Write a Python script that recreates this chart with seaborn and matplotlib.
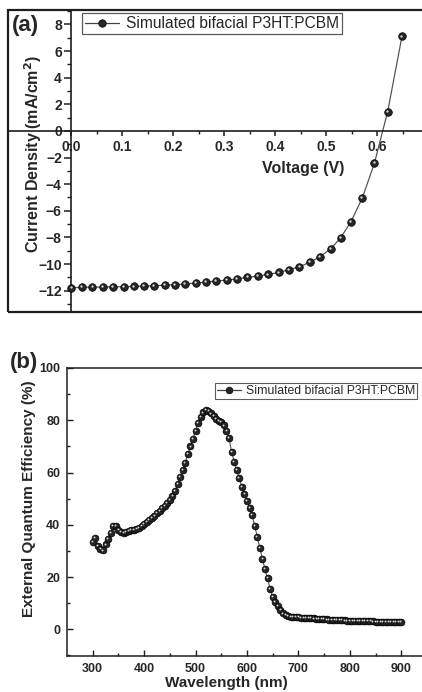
import numpy as np
import pandas as pd
import seaborn as sns
import matplotlib
matplotlib.use("Agg")
import matplotlib.pyplot as plt
import matplotlib.transforms as mtransforms
from matplotlib.lines import Line2D
from matplotlib.patches import Rectangle
from matplotlib.ticker import FixedLocator, FormatStrFormatter

# ---------------- data ----------------
series_label = "Simulated bifacial P3HT:PCBM"

# (a) J-V curve
voltage = [0.000, 0.020, 0.041, 0.061, 0.081, 0.102, 0.122, 0.142, 0.162, 0.183,
           0.203, 0.223, 0.244, 0.264, 0.284, 0.305, 0.325, 0.345, 0.365, 0.386,
           0.406, 0.426, 0.447, 0.467, 0.487, 0.508, 0.528, 0.548, 0.570, 0.594,
           0.620, 0.648]
current_density = [-11.78, -11.75, -11.73, -11.73, -11.70, -11.70, -11.68, -11.65, -11.63, -11.58,
                   -11.55, -11.50, -11.42, -11.36, -11.27, -11.20, -11.10, -11.00, -10.90, -10.78,
                   -10.63, -10.43, -10.20, -9.87, -9.45, -8.87, -8.02, -6.82, -5.06, -2.43,
                   1.45, 7.09]
a_xticks = [0.0, 0.1, 0.2, 0.3, 0.4, 0.5, 0.6]
a_xminor = [0.05, 0.15, 0.25, 0.35, 0.45, 0.55, 0.65]
a_yticks = [-12, -10, -8, -6, -4, -2, 0, 2, 4, 6, 8]
a_yminor = [-13, -11, -9, -7, -5, -3, -1, 1, 3, 5, 7, 9]

# (b) EQE spectrum, 5 nm steps from 300 to 900 nm
wavelength = np.arange(300, 901, 5)
eqe = [33.3, 34.8, 32.0, 30.8, 30.2, 32.5, 34.5, 37.0, 39.5, 39.6,
       38.2, 37.2, 36.8, 37.2, 37.6, 38.0, 38.1, 38.4, 38.9, 39.5,
       40.2, 41.0, 41.8, 42.6, 43.5, 44.4, 45.3, 46.3, 47.3, 48.4,
       49.5, 51.0, 53.0, 55.5, 58.3, 61.0, 63.8, 67.0, 70.0, 73.0,
       76.0, 79.0, 81.3, 83.0, 83.8, 83.5, 82.6, 81.5, 80.6, 79.8,
       79.3, 78.0, 76.0, 73.2, 68.0, 64.2, 61.0, 57.8, 54.6, 51.8,
       49.2, 46.6, 43.8, 39.5, 35.5, 31.0, 27.0, 23.0, 19.5, 15.5,
       12.5, 10.5, 8.8, 7.3, 6.1, 5.4, 5.1, 4.9, 4.8, 4.7,
       4.6, 4.5, 4.45, 4.4, 4.3, 4.2, 4.15, 4.05, 4.0, 3.9,
       3.85, 3.8, 3.7, 3.65, 3.6, 3.55, 3.5, 3.45, 3.4, 3.35,
       3.3, 3.28, 3.25, 3.2, 3.17, 3.15, 3.1, 3.08, 3.05, 3.02,
       3.0, 2.97, 2.95, 2.93, 2.9, 2.88, 2.86, 2.85, 2.83, 2.82,
       2.8]
b_xticks = [300, 400, 500, 600, 700, 800, 900]
b_xminor = [350, 450, 550, 650, 750, 850]
b_yticks = [0, 20, 40, 60, 80, 100]
b_yminor = [-10, 10, 30, 50, 70, 90]

jv = pd.DataFrame({"V": voltage, "J": current_density})
spec = pd.DataFrame({"wl": wavelength, "eqe": eqe})

# ---------------- style ----------------
sns.set_style("white")
plt.rcParams["font.family"] = ["Liberation Sans", "DejaVu Sans"]
plt.rcParams["font.weight"] = "bold"
plt.rcParams["axes.unicode_minus"] = True

INK = "#1e1e1e"
fig = plt.figure(figsize=(4.22, 6.92), dpi=100)
W, H = 422.0, 692.0


def balls(ax, df, x, y, size, hl):
    """Shaded sphere markers: dark disc plus a small off-centre highlight."""
    sns.scatterplot(data=df, x=x, y=y, ax=ax, s=size, color="#262626",
                    edgecolor="black", linewidth=0.5, zorder=3, legend=False)
    shine = mtransforms.offset_copy(ax.transData, fig=fig, x=-0.9, y=0.9, units="dots")
    ax.scatter(df[x], df[y], s=hl, color="#d8d8d8", linewidths=0,
               transform=shine, zorder=4)


def legend_handle(ms):
    return Line2D([], [], color="#444444", lw=0.9, marker="o", markersize=ms,
                  markerfacecolor="#262626", markeredgecolor="black", markeredgewidth=0.5)


# ---------------- panel (a) ----------------
ax_a = fig.add_axes([8 / W, 1 - 312 / H, 422 / W, 302 / H])
sns.lineplot(data=jv, x="V", y="J", ax=ax_a, color="#555555", lw=0.9,
             sort=False, estimator=None, zorder=2)
balls(ax_a, jv, "V", "J", 30, 2.8)

ax_a.set_xlim(-0.1245, 0.703)
ax_a.set_ylim(-13.6, 9.08)
ax_a.spines["left"].set_position(("data", 0))
ax_a.spines["bottom"].set_position(("data", 0))
for side in ("top", "right"):
    ax_a.spines[side].set_visible(False)
for side in ("left", "bottom"):
    ax_a.spines[side].set_linewidth(1.2)
    ax_a.spines[side].set_color(INK)
ax_a.add_patch(Rectangle((0, 0), 1, 1, transform=ax_a.transAxes, fill=False,
                         lw=1.6, ec=INK, clip_on=False, zorder=5))

ax_a.xaxis.set_major_locator(FixedLocator(a_xticks))
ax_a.xaxis.set_minor_locator(FixedLocator(a_xminor))
ax_a.yaxis.set_major_locator(FixedLocator(a_yticks))
ax_a.yaxis.set_minor_locator(FixedLocator(a_yminor))
ax_a.xaxis.set_major_formatter(FormatStrFormatter("%.1f"))
ax_a.tick_params(axis="both", which="both", direction="out", color=INK,
                 labelsize=10, bottom=True, left=True)
ax_a.tick_params(axis="y", which="major", length=5, width=1.1, pad=2)
ax_a.tick_params(axis="y", which="minor", length=3, width=1.0)
ax_a.tick_params(axis="x", which="major", length=3.5, width=1.1, pad=3)
ax_a.tick_params(axis="x", which="minor", length=2, width=1.0)

ax_a.set_xlabel("Voltage (V)", fontsize=11.5, fontweight="bold")
ax_a.xaxis.set_label_coords((303 - 8) / 422, (312 - 168) / 302)
ax_a.xaxis.label.set_va("center")
ax_a.set_ylabel("Current Density (mA/cm$^\\mathbf{2}$)", fontsize=11.5, fontweight="bold")
ax_a.yaxis.set_label_coords((33 - 8) / 422, (312 - 154) / 302)
ax_a.yaxis.label.set_va("center")

leg_a = ax_a.legend(handles=[legend_handle(5.4)], labels=[series_label],
                    loc="upper left", bbox_to_anchor=(82 / W, 1 - 13 / H),
                    bbox_transform=fig.transFigure, frameon=True, fancybox=False,
                    prop={"size": 11.2, "weight": "normal"}, handlelength=2.2,
                    handletextpad=0.4, borderpad=0.2, borderaxespad=0)
leg_a.get_frame().set_edgecolor("#333333")
leg_a.get_frame().set_linewidth(0.9)

fig.text(12 / W, 1 - 25 / H, "(a)", fontsize=16, fontweight="bold", ha="left", va="center")

# ---------------- panel (b) ----------------
ax_b = fig.add_axes([67 / W, 1 - 656 / H, 360 / W, 288 / H])
sns.lineplot(data=spec, x="wl", y="eqe", ax=ax_b, color="#555555", lw=0.8,
             sort=False, estimator=None, zorder=2)
balls(ax_b, spec, "wl", "eqe", 24, 1.8)

ax_b.set_xlim(250, 950)
ax_b.set_ylim(-10.2, 100)
ax_b.spines["right"].set_visible(False)
for side in ("left", "bottom", "top"):
    ax_b.spines[side].set_linewidth(1.1)
    ax_b.spines[side].set_color(INK)

ax_b.xaxis.set_major_locator(FixedLocator(b_xticks))
ax_b.xaxis.set_minor_locator(FixedLocator(b_xminor))
ax_b.yaxis.set_major_locator(FixedLocator(b_yticks))
ax_b.yaxis.set_minor_locator(FixedLocator(b_yminor))
ax_b.tick_params(axis="both", which="both", direction="in", color=INK,
                 labelsize=9, bottom=True, left=True)
ax_b.tick_params(axis="both", which="major", length=4.5, width=1.0, pad=5)
ax_b.tick_params(axis="both", which="minor", length=2.5, width=1.0)

ax_b.set_xlabel("Wavelength (nm)", fontsize=11, fontweight="bold")
ax_b.xaxis.set_label_coords((226 - 67) / 360, (656 - 683) / 288)
ax_b.xaxis.label.set_va("center")
ax_b.set_ylabel("External Quantum Efficiency (%)", fontsize=11, fontweight="bold")
ax_b.yaxis.set_label_coords((29 - 67) / 360, (656 - 499) / 288)
ax_b.yaxis.label.set_va("center")

leg_b = ax_b.legend(handles=[legend_handle(4.8)], labels=[series_label],
                    loc="upper left", bbox_to_anchor=(215 / W, 1 - 383 / H),
                    bbox_transform=fig.transFigure, frameon=True, fancybox=False,
                    prop={"size": 8.8, "weight": "normal"}, handlelength=2.0,
                    handletextpad=0.4, borderpad=0.15, borderaxespad=0)
leg_b.get_frame().set_edgecolor("#333333")
leg_b.get_frame().set_linewidth(0.8)

fig.text(10 / W, 1 - 363 / H, "(b)", fontsize=16, fontweight="bold", ha="left", va="center")

fig.savefig("out.png", dpi=100, facecolor="white")
